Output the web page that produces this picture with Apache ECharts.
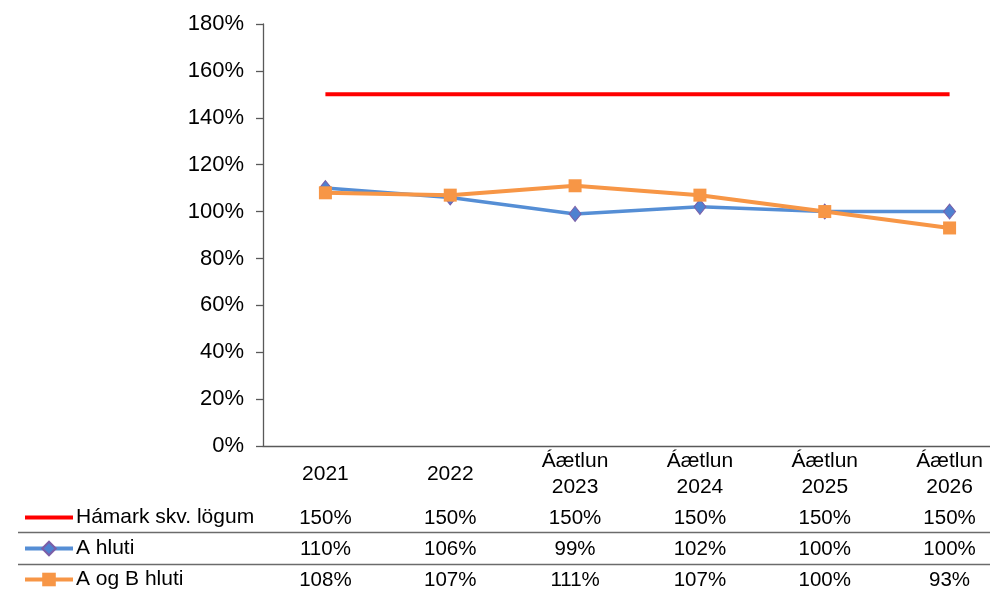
<!DOCTYPE html>
<html>
<head>
<meta charset="utf-8">
<script src="https://cdn.jsdelivr.net/npm/echarts@6/dist/echarts.min.js"></script>
<style>
  html, body { margin: 0; padding: 0; background: #fff; }
  #main { width: 990px; height: 590px; }
</style>
</head>
<body>
<div id="main"></div>
<script>
// flokkar og gögn
const categories = ['2021', '2022', 'Áætlun\n2023', 'Áætlun\n2024', 'Áætlun\n2025', 'Áætlun\n2026'];
const seriesNames = ['Hámark skv. lögum', 'A hluti', 'A og B hluti'];
const hamark = [1.50, 1.50, 1.50, 1.50, 1.50, 1.50];
const aHluti = [1.10, 1.06, 0.99, 1.02, 1.00, 1.00];
const aogBHluti = [1.08, 1.07, 1.11, 1.07, 1.00, 0.93];

const FONT = '"Liberation Sans", Arial, sans-serif';
const pct = v => Math.round(v * 100) + '%';

let chart = echarts.init(document.getElementById('main'), null, { renderer: 'canvas' });

// raðir töflunnar undir x-ás
function tableAxis(values, offset) {
	return {
		type: 'category',
		gridIndex: 0,
		position: 'bottom',
		offset: offset,
		data: values.map(pct),
		axisLine: { show: false },
		axisTick: { show: false },
		axisLabel: { margin: 0, fontSize: 20.5, color: '#000', fontFamily: FONT, lineHeight: 20 }
	};
}

let option = {
	animation: false,
	grid: { left: 263, top: 24, bottom: 144, width: 749, outerBoundsMode: 'none', containLabel: false },
	legend: {
		orient: 'vertical',
		left: 23,
		top: 507,
		itemWidth: 48,
		itemHeight: 17,
		itemGap: 10,
		padding: 0,
		lineStyle: { width: 4 },
		textStyle: { fontSize: 21, color: '#000', fontFamily: FONT, padding: [0, 0, 0, -2] },
		data: [
			{ name: seriesNames[0], icon: 'path://M0,0H48V4H0Z' },
			{ name: seriesNames[1] },
			{ name: seriesNames[2] }
		]
	},
	xAxis: [
		{
			type: 'category',
			data: categories,
			axisLine: { lineStyle: { color: '#595959', width: 1.3 } },
			axisTick: { show: false },
			axisLabel: {
				margin: 28, fontSize: 21, color: '#000', fontFamily: FONT,
				lineHeight: 26, verticalAlign: 'middle'
			}
		},
		tableAxis(hamark, 62),
		tableAxis(aHluti, 93),
		tableAxis(aogBHluti, 124)
	],
	yAxis: {
		type: 'value',
		min: 0,
		max: 1.8,
		interval: 0.2,
		axisLine: { show: true, lineStyle: { color: '#595959', width: 1.3 } },
		axisTick: { show: true, length: 7, lineStyle: { color: '#595959', width: 1.3 } },
		splitLine: { show: false },
		axisLabel: {
			margin: 19,
			fontSize: 22,
			color: '#000',
			fontFamily: FONT,
			formatter: v => Math.round(v * 100) + '%'
		}
	},
	graphic: [
		{ type: 'line', shape: { x1: 18, y1: 532.5, x2: 990, y2: 532.5 }, style: { stroke: '#6b6b6b', lineWidth: 1.5 } },
		{ type: 'line', shape: { x1: 18, y1: 564.5, x2: 990, y2: 564.5 }, style: { stroke: '#6b6b6b', lineWidth: 1.5 } }
	],
	series: [
		{
			name: seriesNames[0],
			type: 'line',
			data: hamark,
			symbol: 'none',
			lineStyle: { color: '#ff0000', width: 4 },
			itemStyle: { color: '#ff0000' }
		},
		{
			name: seriesNames[1],
			type: 'line',
			data: aHluti,
			symbol: 'diamond',
			symbolSize: [12, 15],
			lineStyle: { color: '#558ed5', width: 3.5 },
			itemStyle: { color: '#4f81d0', borderColor: '#7b5ea7', borderWidth: 1 }
		},
		{
			name: seriesNames[2],
			type: 'line',
			data: aogBHluti,
			symbol: 'rect',
			symbolSize: 13,
			lineStyle: { color: '#f79646', width: 4 },
			itemStyle: { color: '#f79646' }
		}
	]
};

chart.setOption(option);
</script>
</body>
</html>
